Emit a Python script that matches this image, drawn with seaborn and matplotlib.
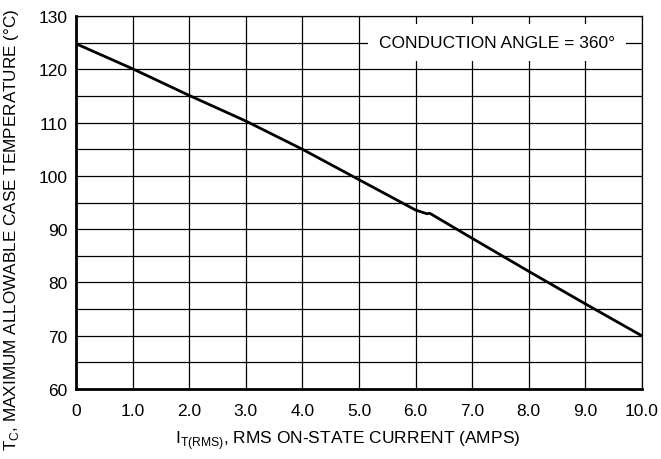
import numpy as np
import pandas as pd
import matplotlib
matplotlib.use("Agg")
import matplotlib.pyplot as plt
import seaborn as sns

# curve
current_amps = [0, 1.0, 2.0, 3.0, 4.0, 5.0, 6.0, 6.2, 6.25, 7.0, 8.0, 9.0, 10.0]
case_temp_c  = [124.8, 120.1, 115.1, 110.3, 105.0, 99.3, 93.6, 92.9, 93.0, 88.3, 82.1, 76.0, 70.0]

x_ticks       = [0, 1, 2, 3, 4, 5, 6, 7, 8, 9, 10]
x_tick_labels = ["0", "1.0", "2.0", "3.0", "4.0", "5.0", "6.0", "7.0", "8.0", "9.0", "10.0"]
y_ticks       = [60, 70, 80, 90, 100, 110, 120, 130]
y_grid        = np.arange(60, 131, 5)

df = pd.DataFrame({"current": current_amps, "temp": case_temp_c})

sns.set_theme(style="white")
plt.rcParams["font.family"] = ["Liberation Sans Narrow", "Liberation Sans", "DejaVu Sans"]
plt.rcParams["mathtext.fontset"] = "custom"
plt.rcParams["mathtext.rm"] = "Liberation Sans"

fig = plt.figure(figsize=(6.61, 4.60), dpi=100)
ax = fig.add_axes([0.115, 0.152, 0.856, 0.811])

for yv in y_grid:
    ax.axhline(yv, color="black", linewidth=0.9, zorder=1)
for xv in x_ticks:
    ax.axvline(xv, color="black", linewidth=0.9, zorder=1)

sns.lineplot(data=df, x="current", y="temp", color="black", linewidth=2.0,
             ax=ax, zorder=3, estimator=None, sort=False)

ax.set_xlim(0, 10)
ax.set_ylim(60, 130)
ax.set_xticks(x_ticks)
ax.set_xticklabels(x_tick_labels, fontsize=12.5, color="black")
ax.set_yticks(y_ticks)
ax.set_yticklabels([str(v) for v in y_ticks], fontsize=12.5, color="black")
ax.tick_params(axis="y", length=0, pad=6)
ax.tick_params(axis="x", length=0, pad=10)

for side in ["top", "right"]:
    ax.spines[side].set_linewidth(0.9)
    ax.spines[side].set_color("black")
for side in ["left", "bottom"]:
    ax.spines[side].set_linewidth(2.0)
    ax.spines[side].set_color("black")

ax.set_xlabel(r"I$_\mathregular{T(RMS)}$, RMS ON-STATE CURRENT (AMPS)", fontsize=12.5,
              color="black")
ax.set_ylabel(r"T$_\mathregular{C}$, MAXIMUM ALLOWABLE CASE TEMPERATURE (°C)", fontsize=12.3,
              color="black")
ax.xaxis.set_label_coords(0.48, -0.105)
ax.yaxis.set_label_coords(-0.097, 0.43)

ax.text(7.44, 125, "CONDUCTION ANGLE = 360°", fontsize=12.5, ha="center", va="center",
        color="black", zorder=4,
        bbox=dict(facecolor="white", edgecolor="none", pad=8))

fig.savefig("out.png", dpi=100)
